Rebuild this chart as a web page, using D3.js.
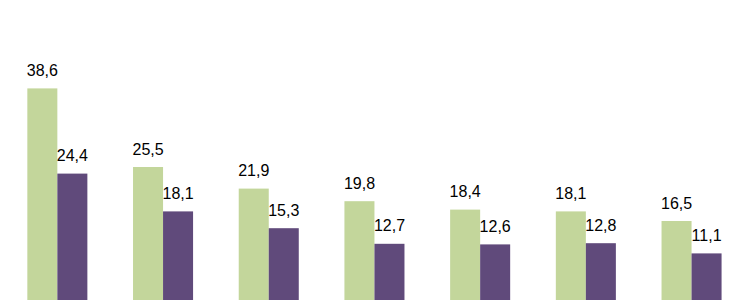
<!DOCTYPE html>
<html lang="en">
<head>
    <meta charset="UTF-8">
    <title>bars</title>
    <script src="https://cdn.jsdelivr.net/npm/d3@7/dist/d3.min.js"></script>
    <style>
        body { margin: 0; background: #fff; }
    </style>
</head>
<body>
    <div class="chart"></div>
</body>
<script>
    const groups = ['1', '2', '3', '4', '5', '6', '7']
    const seriesA = [38.6, 25.5, 21.9, 19.8, 18.4, 18.1, 16.5]
    const seriesB = [24.4, 18.1, 15.3, 12.7, 12.6, 12.8, 11.1]
    const colors = ['#c3d69b', '#604a7b']

    const width = 750
    const height = 300

    const svg = d3.select('.chart')
        .append('svg')
        .attr('width', width)
        .attr('height', height)

    // baseline sits below the visible area, the picture is cropped
    const y = d3.scaleLinear().domain([0, 40]).range([320, 80])
    const x = d3.scaleBand().domain(groups).range([4.5, 744.4])
        .paddingInner(0.432).paddingOuter(0.216)
    const xSub = d3.scaleBand().domain([0, 1]).range([0, x.bandwidth()])

    const fmt = (v) => v.toFixed(1).replace('.', ',')

    const rows = groups.map((g, i) => ({ g, vals: [seriesA[i], seriesB[i]] }))

    const grp = svg.selectAll('.grp')
        .data(rows)
        .enter()
        .append('g')
        .attr('class', 'grp')
        .attr('transform', (d) => `translate(${x(d.g)},0)`)

    grp.selectAll('rect')
        .data((d) => d.vals)
        .enter()
        .append('rect')
        .attr('x', (d, i) => xSub(i))
        .attr('y', (d) => y(d))
        .attr('width', xSub.bandwidth())
        .attr('height', (d) => y(0) - y(d))
        .attr('fill', (d, i) => colors[i])

    grp.selectAll('text')
        .data((d) => d.vals)
        .enter()
        .append('text')
        .attr('x', (d, i) => xSub(i) + xSub.bandwidth() / 2)
        .attr('y', (d) => y(d) - 12.5)
        .attr('text-anchor', 'middle')
        .attr('font-family', 'Liberation Sans, Arial, sans-serif')
        .attr('font-size', 16)
        .attr('fill', '#000')
        .text(fmt)
</script>
</html>
